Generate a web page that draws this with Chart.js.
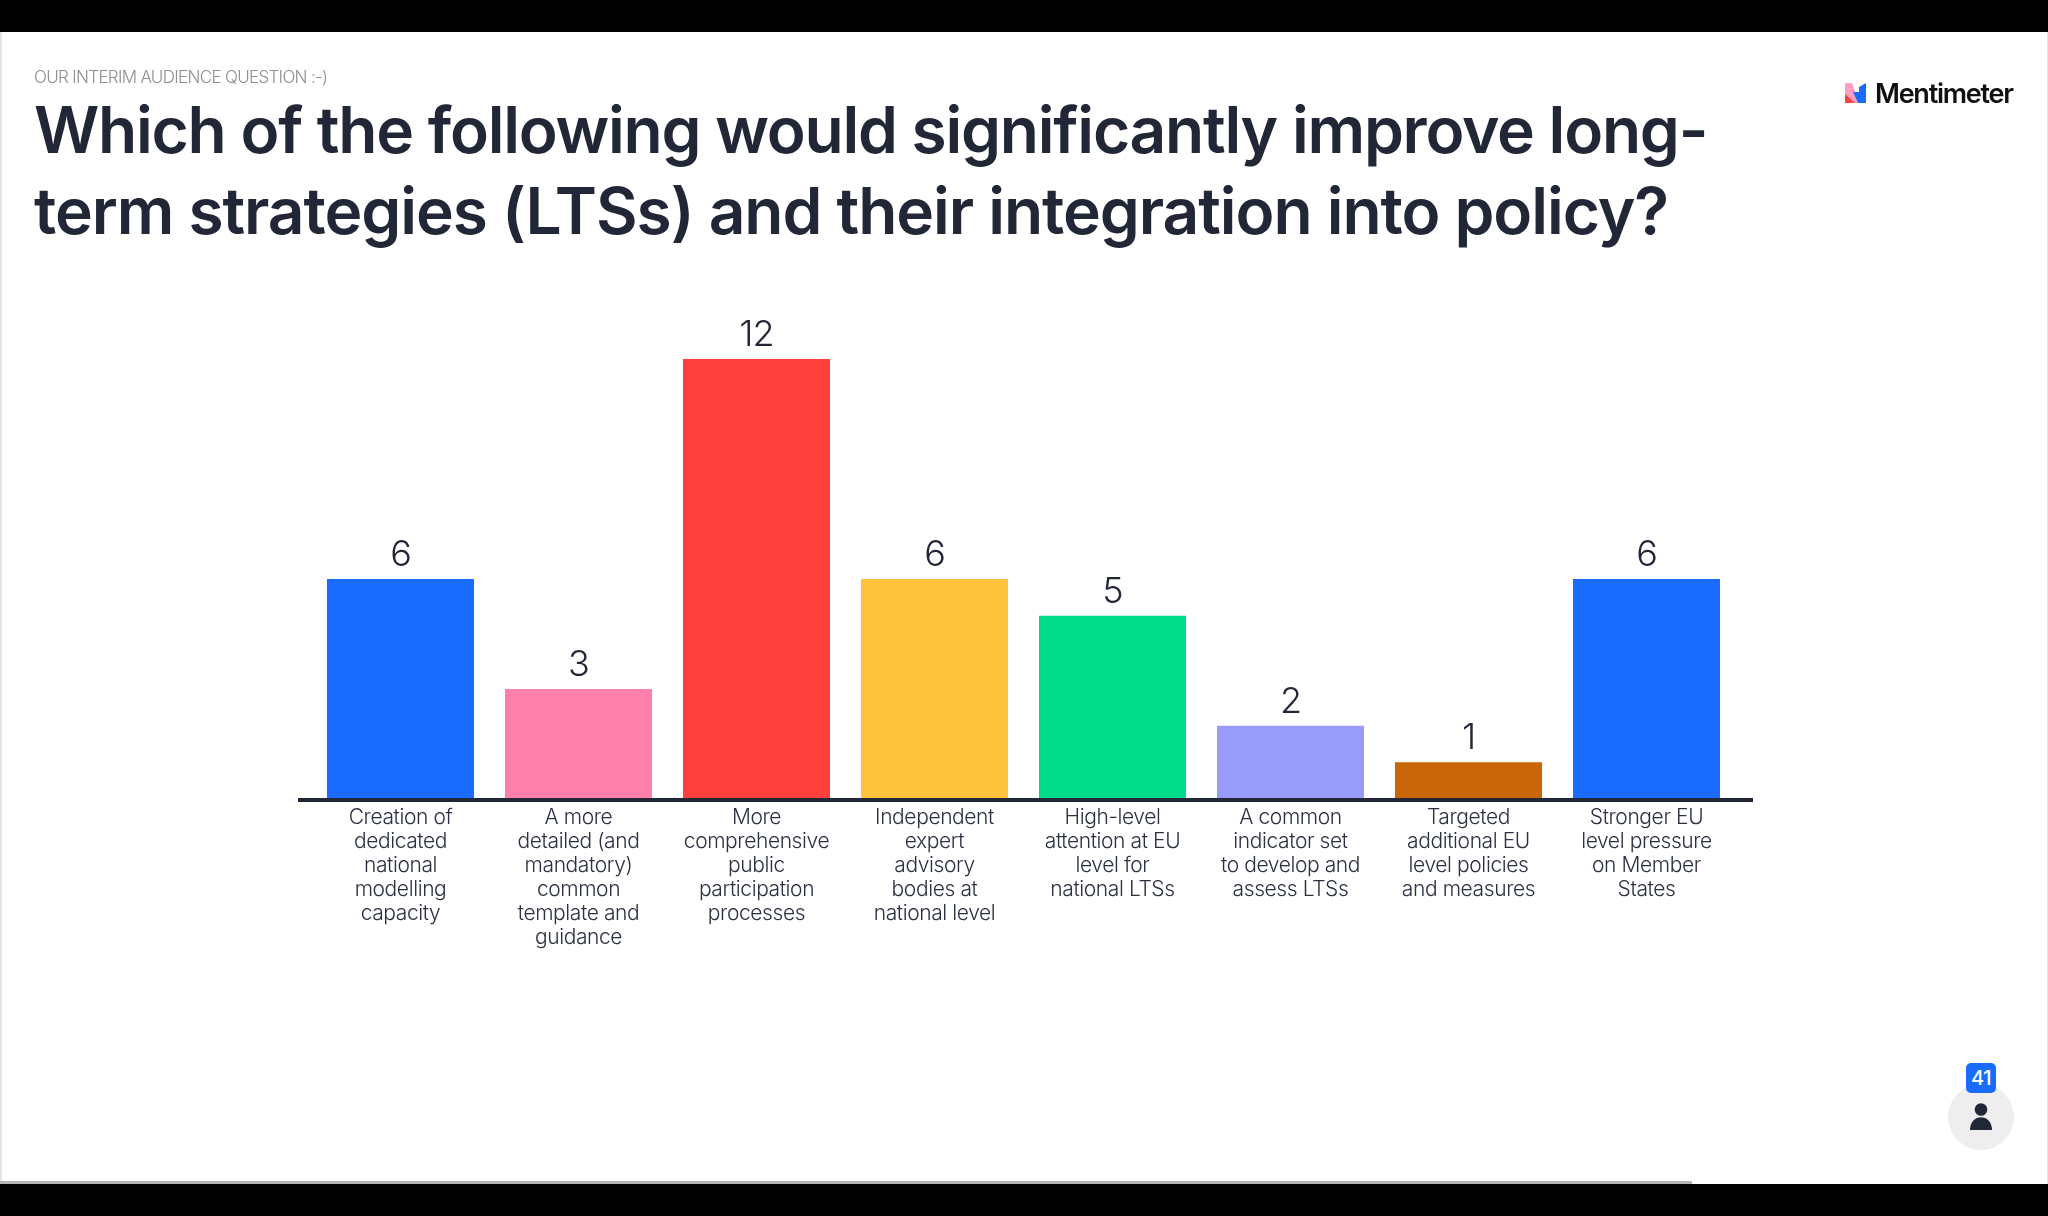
<!DOCTYPE html>
<html>
<head>
<meta charset="utf-8">
<script src="https://cdn.jsdelivr.net/npm/chart.js@4"></script>
<style>
html,body{margin:0;padding:0;background:#000;width:2048px;height:1216px;overflow:hidden;font-family:Inter,sans-serif}
#slide{position:absolute;left:0;top:32px;width:2048px;height:1152px;background:#fff;border-left:2px solid #e4e4e4;border-right:1px solid #e4e4e4;box-sizing:border-box}
#chartWrap{position:absolute;left:0;top:0;width:2048px;height:1216px}
canvas{display:block}
.abs{position:absolute;white-space:nowrap}
#kicker{left:34px;top:66px;font-size:17px;font-weight:300;color:#8f8f8f;letter-spacing:-.68px;line-height:22px}
.title{left:34px;font-size:64px;font-weight:600;color:#212736;line-height:80px}
#brand{left:1875px;top:77px;font-size:27px;font-weight:600;color:#101010;letter-spacing:-1.25px;line-height:34px}
#progress{left:0;top:1181px;width:1692px;height:3px;background:#b5b5b5}
#badge{left:1966px;top:1063px;width:30px;height:30px;border-radius:5px;background:#196cff;color:#fff;font-size:20px;font-weight:500;text-align:center;line-height:30px;letter-spacing:-.5px}
</style>
</head>
<body>
<div id="slide"></div>
<div id="chartWrap"><canvas id="c" width="2048" height="1216"></canvas></div>
<div class="abs" id="kicker">OUR INTERIM AUDIENCE QUESTION :-)</div>
<div class="abs title" style="top:90px;letter-spacing:-1.22px">Which of the following would significantly improve long-</div>
<div class="abs title" style="top:171px;letter-spacing:-1.04px">term strategies (LTSs) and their integration into policy?</div>
<svg class="abs" style="left:1845px;top:82px" width="22" height="22" viewBox="0 0 22 22">
<path d="M0 1 L7 1 L14 21 L0 21Z" fill="#ff9ec0"/><path d="M0 12 L10 21 L0 21Z" fill="#ff403d"/><path d="M8 10 L14 10 L14 5 L21 1 L21 21 L13 21Z" fill="#196cff"/>
</svg>
<div class="abs" id="brand">Mentimeter</div>
<div class="abs" id="progress"></div>
<svg class="abs" style="left:1948px;top:1084px" width="66" height="66" viewBox="0 0 66 66">
<circle cx="33" cy="33" r="33" fill="#eeeeee"/><circle cx="33" cy="25.5" r="6.3" fill="#212736"/><path d="M22 46 C22 29 44 29 44 46Z" fill="#212736"/>
</svg>
<div class="abs" id="badge">41</div>
<script>
const categories = [
  ["Creation of","dedicated","national","modelling","capacity"],
  ["A more","detailed (and","mandatory)","common","template and","guidance"],
  ["More","comprehensive","public","participation","processes"],
  ["Independent","expert","advisory","bodies at","national level"],
  ["High-level","attention at EU","level for","national LTSs"],
  ["A common","indicator set","to develop and","assess LTSs"],
  ["Targeted","additional EU","level policies","and measures"],
  ["Stronger EU","level pressure","on Member","States"]
];
const votes = [6, 3, 12, 6, 5, 2, 1, 6];
const barColors = ["#196cff","#ff80ab","#ff403d","#ffc23a","#00da8b","#989cf8","#c9660a","#196cff"];
const inkColor = "#212736";

const slidePlugin = {
  id: "slidePlugin",
  beforeDraw(chart){ chart.ctx.letterSpacing = "-0.4px"; },
  afterDatasetsDraw(chart){
    const ctx = chart.ctx, area = chart.chartArea, y0 = chart.scales.y.getPixelForValue(0);
    ctx.save();
    ctx.fillStyle = inkColor;
    ctx.fillRect(area.left - 13.5, y0 - 1, area.right - area.left + 31, 4);
    ctx.font = "350 36px Inter";
    ctx.textAlign = "center";
    ctx.textBaseline = "alphabetic";
    ctx.letterSpacing = "-1px";
    chart.getDatasetMeta(0).data.forEach((bar, i) => {
      ctx.fillText(String(votes[i]), bar.x, bar.y - 13);
    });
    ctx.restore();
  }
};

new Chart(document.getElementById("c"), {
  type: "bar",
  data: { labels: categories, datasets: [{ data: votes, backgroundColor: barColors, borderWidth: 0, categoryPercentage: 0.826, barPercentage: 1 }] },
  options: {
    responsive: false, animation: false,
    layout: { padding: { left: 311.5, right: 312.5, top: 359, bottom: 237 } },
    plugins: { legend: { display: false }, tooltip: { enabled: false } },
    scales: {
      y: { display: false, min: 0, max: 12 },
      x: {
        afterFit(scale){ scale.height = 180; },
        grid: { display: false }, border: { display: false },
        ticks: { autoSkip: false, maxRotation: 0, minRotation: 0, padding: -1, color: "#2b3140",
          font: { family: "Inter", size: 21, weight: "300", lineHeight: 1.14 } }
      }
    }
  },
  plugins: [slidePlugin]
});
</script>
</body>
</html>
